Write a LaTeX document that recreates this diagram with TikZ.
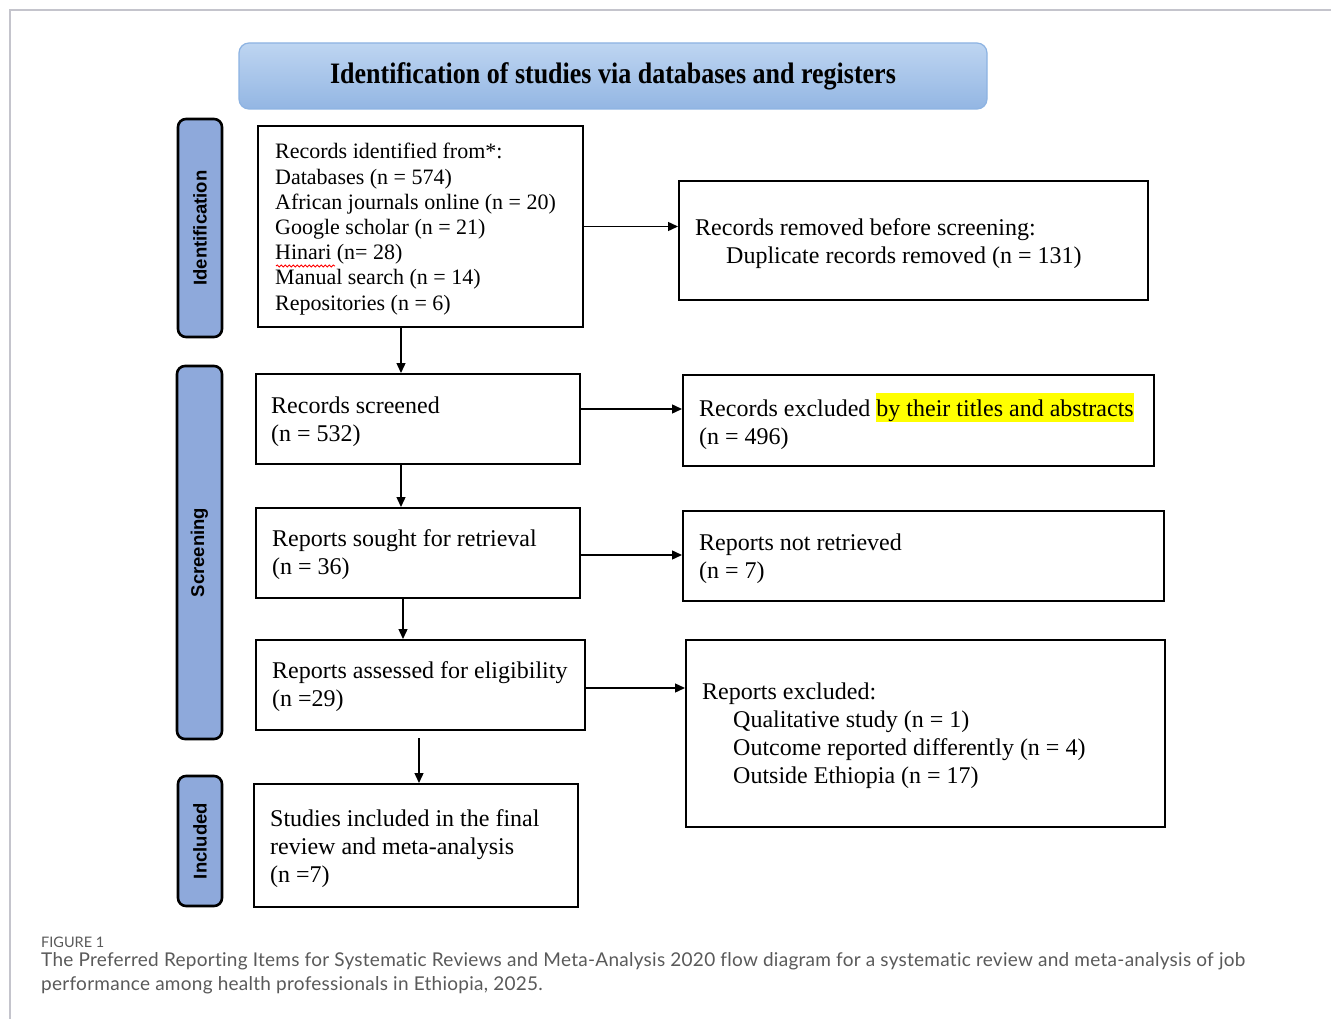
\documentclass[tikz,border=0pt]{standalone}
\usepackage{fontspec}
\setmainfont{Liberation Serif}
\newfontfamily\lblfont{Liberation Sans}
\newfontfamily\capfont[LetterSpace=1.4,Ligatures=NoCommon]{Lato}
\newfontfamily\figfont{Lato}
\usetikzlibrary{arrows.meta,decorations.pathmorphing}
\definecolor{hdrtop}{HTML}{BED5F1}
\definecolor{hdrbot}{HTML}{93B6E3}
\definecolor{hdredge}{HTML}{8DB3E2}
\definecolor{sidefill}{HTML}{8EA9DB}
\definecolor{framegray}{HTML}{C4C4CC}
\definecolor{capgray}{HTML}{5A5A5A}
\definecolor{hlyellow}{HTML}{FFFF00}
\newcommand{\hlt}[1]{{\setlength{\fboxsep}{0pt}\colorbox{hlyellow}{\rule[-5pt]{0pt}{28pt}#1}}}
\begin{document}
\begin{tikzpicture}[x=1pt,y=-1pt,
  pbox/.style={draw=black, line width=2pt, fill=white, inner sep=0pt},
  ptext/.style={anchor=west, align=left, inner sep=0pt, font=\fontsize{24}{28}\selectfont},
  ptextsm/.style={anchor=west, align=left, inner sep=0pt, font=\fontsize{22}{25.2}\selectfont},
  side/.style={draw=black, line width=2.6pt, fill=sidefill, rounded corners=8pt, inner sep=0pt, rotate=90, font=\lblfont\bfseries\fontsize{18.5}{20}\selectfont},
  arr/.style={line width=1.4pt, -{Triangle[length=10pt,width=9pt]}}
]
\useasboundingbox (0,0) rectangle (1331,1019);
\fill[white] (0,0) rectangle (1331,1019);
% frame
\draw[framegray, line width=1.4pt] (10,1019) -- (10,10) -- (1331,10);

% header
\node[draw=hdredge, line width=1.2pt, rounded corners=10pt, top color=hdrtop, bottom color=hdrbot,
      minimum width=748pt, minimum height=66pt, inner sep=0pt,
      font=\bfseries\fontsize{26}{30}\selectfont] (hdr) at (613,76) {\scalebox{1}[1.14]{Identification of studies via databases and registers}};

% side labels
\node[side, minimum width=218pt, minimum height=44pt] (sid) at (200,228) {Identification};
\node[side, minimum width=373pt, minimum height=45pt] (ssc) at (199.5,552.5) {Screening};
\node[side, minimum width=130pt, minimum height=44pt] (sin) at (200,841) {Included};

% boxes
\node[pbox, minimum width=325pt, minimum height=201pt] (b1) at (420.5,226.5) {};
\node[pbox, minimum width=469pt, minimum height=119pt] (r1) at (913.5,240.5) {};
\node[pbox, minimum width=324pt, minimum height=90pt] (b2) at (418,419) {};
\node[pbox, minimum width=471pt, minimum height=91pt] (r2) at (918.5,420.5) {};
\node[pbox, minimum width=324pt, minimum height=90pt] (b3) at (418,553) {};
\node[pbox, minimum width=481pt, minimum height=90pt] (r3) at (923.5,556) {};
\node[pbox, minimum width=329pt, minimum height=90pt] (b4) at (420.5,685) {};
\node[pbox, minimum width=479pt, minimum height=187pt] (r4) at (925.5,733.5) {};
\node[pbox, minimum width=324pt, minimum height=123pt] (b5) at (416,845.5) {};

% texts
\node[ptextsm] (b1t) at ([xshift=18pt,yshift=-2.5pt]b1.west) {Records identified from*:\\Databases (n = 574)\\African journals online (n = 20)\\Google scholar (n = 21)\\Hinari (n= 28)\\Manual search (n = 14)\\Repositories (n = 6)};
\node[ptext] (r1t) at ([xshift=17pt,yshift=-3pt]r1.west) {Records removed before screening:\\\hspace*{31pt}Duplicate records removed (n = 131)};
\node[ptext] (b2t) at ([xshift=16pt,yshift=-3pt]b2.west) {Records screened\\(n = 532)};
\node[ptext] (r2t) at ([xshift=17pt,yshift=-1pt]r2.west) {Records excluded \hlt{by their titles and abstracts}\\(n = 496)};
\node[ptext] (b3t) at ([xshift=17pt,yshift=-2pt]b3.west) {Reports sought for retrieval\\(n = 36)};
\node[ptext] (r3t) at ([xshift=17pt,yshift=-3pt]r3.west) {Reports not retrieved\\(n = 7)};
\node[ptext] (b4t) at ([xshift=17pt,yshift=-2pt]b4.west) {Reports assessed for eligibility\\(n =29)};
\node[ptext] (r4t) at ([xshift=17pt,yshift=-2pt]r4.west) {Reports excluded:\\\hspace*{31pt}Qualitative study (n = 1)\\\hspace*{31pt}Outcome reported differently (n = 4)\\\hspace*{31pt}Outside Ethiopia (n = 17)};
\node[ptext] (b5t) at ([xshift=17pt,yshift=-3pt]b5.west) {Studies included in the final\\review and meta-analysis\\(n =7)};

% spell-check underline under Hinari
\draw[red, line width=0.8pt, decorate, decoration={snake, amplitude=1.1pt, segment length=4pt}] (276,266) -- (335,266);

% connectors
\draw[arr] (b1.east) -- (b1.east -| r1.west);
\draw[arr] ([yshift=10pt]b2.east) -- ([yshift=10pt]b2.east -| r2.west);
\draw[arr] ([yshift=-2pt]b3.east) -- ([yshift=-2pt]b3.east -| r3.west);
\draw[arr] ([yshift=-3pt]b4.east) -- ([yshift=-3pt]b4.east -| r4.west);
\draw[arr] ([xshift=-19.5pt]b1.south) -- ([xshift=-19.5pt]b1.south |- b2.north);
\draw[arr] ([xshift=-17pt]b2.south) -- ([xshift=-17pt]b2.south |- b3.north);
\draw[arr] ([xshift=-15pt]b3.south) -- ([xshift=-15pt]b3.south |- b4.north);
\draw[arr] ([xshift=-1.5pt,yshift=-7pt]b4.south) -- ([xshift=-1.5pt]b4.south |- b5.north);

% caption
\node[anchor=west, inner sep=0pt, text=capgray, font=\figfont\fontsize{14.5}{16}\selectfont] (figlbl) at (41,942) {FIGURE 1};
\node[anchor=north west, align=left, inner sep=0pt, text=capgray, font=\capfont\fontsize{19}{24}\selectfont] (cap) at (41,952) {The Preferred Reporting Items for Systematic Reviews and Meta-Analysis 2020 flow diagram for a systematic review and meta-analysis of job\\performance among health professionals in Ethiopia, 2025.};
\end{tikzpicture}
\end{document}
